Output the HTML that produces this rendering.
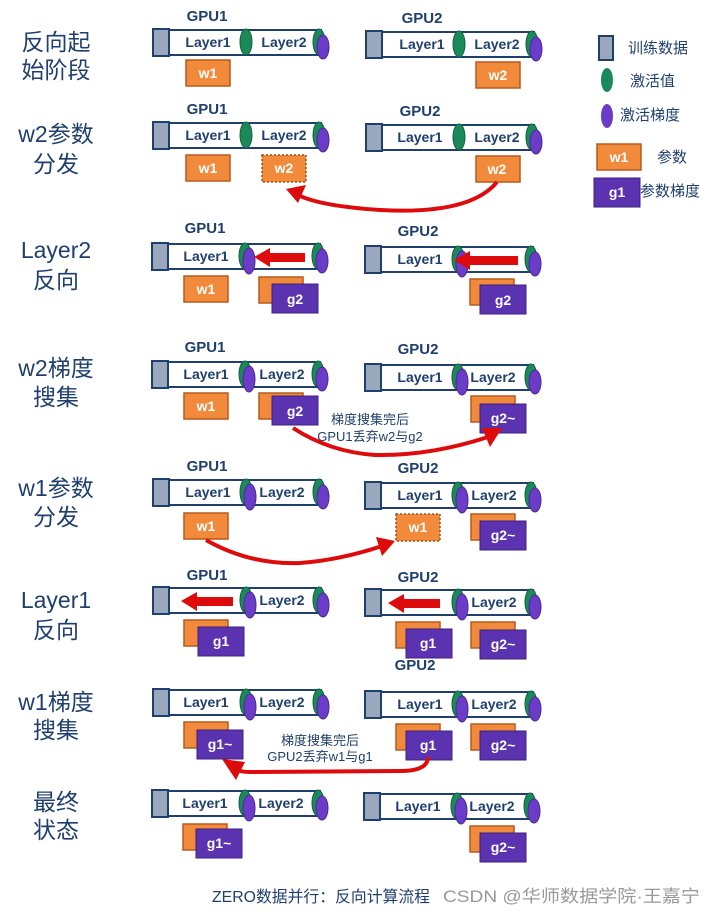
<!DOCTYPE html>
<html><head><meta charset="utf-8"><style>
html,body{margin:0;padding:0;background:#fff;}
svg{display:block;}
.lt{font-family:"Liberation Sans","Noto Sans CJK SC",sans-serif;font-size:23px;fill:#1f3f6e;text-anchor:middle;}
.gp{font-family:"Liberation Sans",sans-serif;font-size:15px;font-weight:bold;fill:#1f3f6e;text-anchor:middle;}
.ly{font-family:"Liberation Sans",sans-serif;font-size:14px;font-weight:bold;fill:#1f3f6e;text-anchor:middle;}
.bx{font-family:"Liberation Sans",sans-serif;font-size:14px;font-weight:bold;fill:#fff;text-anchor:middle;}
.an{font-family:"Liberation Sans","Noto Sans CJK SC",sans-serif;font-size:13px;fill:#1f3f6e;text-anchor:middle;}
.lg{font-family:"Liberation Sans","Noto Sans CJK SC",sans-serif;font-size:15px;fill:#1f3f6e;}
</style></head><body>
<svg width="713" height="914" viewBox="0 0 713 914" xmlns="http://www.w3.org/2000/svg">
<defs>
<g id="b1">
<rect x="0" y="0" width="16" height="27" fill="#9aa8bd" stroke="#1f3f6e" stroke-width="2"/>
<rect x="16" y="1" width="152" height="25" fill="#fff" stroke="#1f3f6e" stroke-width="2"/>
<ellipse cx="93" cy="13" rx="6" ry="13" fill="#1b8a5a" stroke="#14603f" stroke-width="1"/>
<ellipse cx="166" cy="13" rx="6" ry="13" fill="#1b8a5a" stroke="#14603f" stroke-width="1"/>
<ellipse cx="170" cy="18" rx="6" ry="12" fill="#6a3cc8" stroke="#4a2a90" stroke-width="1"/>
</g>
<g id="b2">
<use href="#b1"/>
<ellipse cx="97" cy="18" rx="6" ry="13" fill="#6a3cc8" stroke="#4a2a90" stroke-width="1"/>
</g>
<rect id="o" width="44" height="26" fill="#f28a3c" stroke="#b85a1c" stroke-width="1.5"/>
<rect id="p" width="46" height="29" fill="#5b32b0" stroke="#3f2080" stroke-width="1"/>
</defs>

<text class="lt" x="56" y="50">反向起</text><text class="lt" x="56" y="78">始阶段</text>
<text class="lt" x="56" y="142">w2参数</text><text class="lt" x="56" y="172">分发</text>
<text class="lt" x="56" y="258">Layer2</text><text class="lt" x="56" y="288">反向</text>
<text class="lt" x="56" y="376">w2梯度</text><text class="lt" x="56" y="405">搜集</text>
<text class="lt" x="56" y="496">w1参数</text><text class="lt" x="56" y="525">分发</text>
<text class="lt" x="56" y="608">Layer1</text><text class="lt" x="56" y="638">反向</text>
<text class="lt" x="56" y="710">w1梯度</text><text class="lt" x="56" y="738">搜集</text>
<text class="lt" x="56" y="810">最终</text><text class="lt" x="56" y="838">状态</text>

<rect x="599" y="36" width="14" height="24" fill="#9aa8bd" stroke="#1f3f6e" stroke-width="2"/>
<text class="lg" x="628" y="53">训练数据</text>
<ellipse cx="607" cy="80" rx="6" ry="12" fill="#1b8a5a"/>
<text class="lg" x="630" y="86">激活值</text>
<ellipse cx="607" cy="116" rx="6" ry="12" fill="#6a3cc8"/>
<text class="lg" x="620" y="120">激活梯度</text>
<use href="#o" x="597" y="144"/><text class="bx" x="619" y="162">w1</text>
<text class="lg" x="657" y="162">参数</text>
<use href="#p" x="594" y="178"/><text class="bx" x="617" y="197">g1</text>
<text class="lg" x="640" y="196">参数梯度</text>

<text class="gp" x="207" y="21">GPU1</text><text class="gp" x="422" y="23">GPU2</text>
<use href="#b1" x="153" y="29"/><text class="ly" x="208" y="47">Layer1</text><text class="ly" x="284" y="47">Layer2</text>
<use href="#b1" x="366" y="31"/><text class="ly" x="422" y="49">Layer1</text><text class="ly" x="497" y="49">Layer2</text>
<use href="#o" x="186" y="60"/><text class="bx" x="208" y="78">w1</text>
<use href="#o" x="476" y="62"/><text class="bx" x="498" y="80">w2</text>

<text class="gp" x="207" y="114">GPU1</text><text class="gp" x="420" y="116">GPU2</text>
<use href="#b1" x="153" y="122"/><text class="ly" x="208" y="140">Layer1</text><text class="ly" x="284" y="140">Layer2</text>
<use href="#b1" x="366" y="124"/><text class="ly" x="420" y="142">Layer1</text><text class="ly" x="497" y="142">Layer2</text>
<use href="#o" x="186" y="155"/><text class="bx" x="208" y="173">w1</text>
<rect x="262" y="155" width="44" height="27" fill="#f28a3c" stroke="#a0501c" stroke-width="1.5" stroke-dasharray="2,2"/><text class="bx" x="284" y="173">w2</text>
<use href="#o" x="476" y="156"/><text class="bx" x="497" y="174">w2</text>
<path d="M497,182 Q470,215 380,210 Q320,206 298,195" fill="none" stroke="#dd0b0b" stroke-width="4"/>
<polygon points="286,189 306,185 298,203" fill="#dd0b0b"/>

<text class="gp" x="205" y="233">GPU1</text><text class="gp" x="418" y="236">GPU2</text>
<use href="#b2" x="152" y="243"/><text class="ly" x="206" y="261">Layer1</text>
<polygon points="254,257 270,248 270,253 305,253 305,262 270,262 270,267" fill="#dd0b0b"/>
<use href="#b2" x="365" y="246"/><text class="ly" x="420" y="264">Layer1</text>
<polygon points="454,260 470,251 470,256 518,256 518,265 470,265 470,270" fill="#dd0b0b"/>
<use href="#o" x="184" y="276"/><text class="bx" x="206" y="294">w1</text>
<use href="#o" x="259" y="277"/><use href="#p" x="272" y="284"/><text class="bx" x="295" y="304">g2</text>
<use href="#o" x="470" y="279"/><use href="#p" x="480" y="285"/><text class="bx" x="503" y="305">g2</text>

<text class="gp" x="205" y="352">GPU1</text><text class="gp" x="418" y="354">GPU2</text>
<use href="#b2" x="152" y="361"/><text class="ly" x="206" y="379">Layer1</text><text class="ly" x="282" y="379">Layer2</text>
<use href="#b2" x="365" y="364"/><text class="ly" x="420" y="382">Layer1</text><text class="ly" x="493" y="382">Layer2</text>
<use href="#o" x="184" y="393"/><text class="bx" x="206" y="411">w1</text>
<use href="#o" x="259" y="393"/><use href="#p" x="272" y="396"/><text class="bx" x="295" y="416">g2</text>
<use href="#o" x="471" y="396"/><use href="#p" x="480" y="404"/><text class="bx" x="503" y="423">g2~</text>
<text class="an" x="370" y="424">梯度搜集完后</text><text class="an" x="370" y="441">GPU1丢弃w2与g2</text>
<path d="M293,428 Q330,452 375,455 Q430,456 488,437" fill="none" stroke="#dd0b0b" stroke-width="4"/>
<polygon points="502,428 482,428 490,447" fill="#dd0b0b"/>

<text class="gp" x="207" y="471">GPU1</text><text class="gp" x="418" y="473">GPU2</text>
<use href="#b2" x="153" y="479"/><text class="ly" x="208" y="497">Layer1</text><text class="ly" x="282" y="497">Layer2</text>
<use href="#b2" x="365" y="482"/><text class="ly" x="420" y="500">Layer1</text><text class="ly" x="494" y="500">Layer2</text>
<use href="#o" x="184" y="513"/><text class="bx" x="206" y="531">w1</text>
<rect x="396" y="514" width="44" height="27" fill="#f28a3c" stroke="#a0501c" stroke-width="1.5" stroke-dasharray="2,2"/><text class="bx" x="418" y="532">w1</text>
<use href="#o" x="471" y="514"/><use href="#p" x="480" y="521"/><text class="bx" x="503" y="540">g2~</text>
<path d="M206,540 Q250,565 300,563 Q340,560 382,546" fill="none" stroke="#dd0b0b" stroke-width="4"/>
<polygon points="395,541 376,537 382,556" fill="#dd0b0b"/>

<text class="gp" x="207" y="580">GPU1</text><text class="gp" x="418" y="582">GPU2</text>
<use href="#b2" x="153" y="587"/>
<polygon points="181,601 197,592 197,597 233,597 233,606 197,606 197,611" fill="#dd0b0b"/><text class="ly" x="282" y="605">Layer2</text>
<use href="#b2" x="365" y="589"/>
<polygon points="388,603 404,594 404,599 440,599 440,608 404,608 404,613" fill="#dd0b0b"/><text class="ly" x="494" y="607">Layer2</text>
<use href="#o" x="184" y="620"/><use href="#p" x="198" y="627"/><text class="bx" x="221" y="646">g1</text>
<use href="#o" x="396" y="622"/><use href="#p" x="406" y="629"/><text class="bx" x="428" y="648">g1</text>
<use href="#o" x="471" y="622"/><use href="#p" x="480" y="630"/><text class="bx" x="503" y="649">g2~</text>
<text class="gp" x="415" y="670">GPU2</text>

<use href="#b2" x="153" y="689"/><text class="ly" x="206" y="707">Layer1</text><text class="ly" x="282" y="707">Layer2</text>
<use href="#b2" x="365" y="691"/><text class="ly" x="420" y="709">Layer1</text><text class="ly" x="494" y="709">Layer2</text>
<use href="#o" x="184" y="722"/><use href="#p" x="197" y="730"/><text class="bx" x="220" y="749">g1~</text>
<use href="#o" x="396" y="724"/><use href="#p" x="406" y="731"/><text class="bx" x="428" y="750">g1</text>
<use href="#o" x="471" y="724"/><use href="#p" x="480" y="731"/><text class="bx" x="503" y="750">g2~</text>
<text class="an" x="320" y="745">梯度搜集完后</text><text class="an" x="320" y="761">GPU2丢弃w1与g1</text>
<path d="M428,757 Q428,771 400,771 L250,772 Q240,772 236,769" fill="none" stroke="#dd0b0b" stroke-width="4"/>
<polygon points="222,759 245,762 236,780" fill="#dd0b0b"/>

<use href="#b2" x="152" y="790"/><text class="ly" x="205" y="808">Layer1</text><text class="ly" x="281" y="808">Layer2</text>
<use href="#b2" x="364" y="793"/><text class="ly" x="418" y="811">Layer1</text><text class="ly" x="492" y="811">Layer2</text>
<use href="#o" x="183" y="824"/><use href="#p" x="196" y="829"/><text class="bx" x="219" y="848">g1~</text>
<use href="#o" x="470" y="826"/><use href="#p" x="480" y="833"/><text class="bx" x="503" y="852">g2~</text>

<text x="212" y="902" font-family="Liberation Sans, Noto Sans CJK SC, sans-serif" font-size="16" fill="#1f3f6e" textLength="218" lengthAdjust="spacingAndGlyphs">ZERO数据并行：反向计算流程</text>
<text x="443" y="902" font-family="Liberation Sans, Noto Sans CJK SC, sans-serif" font-size="17" fill="#999" textLength="257" lengthAdjust="spacingAndGlyphs">CSDN @华师数据学院·王嘉宁</text>
</svg>
</body></html>
